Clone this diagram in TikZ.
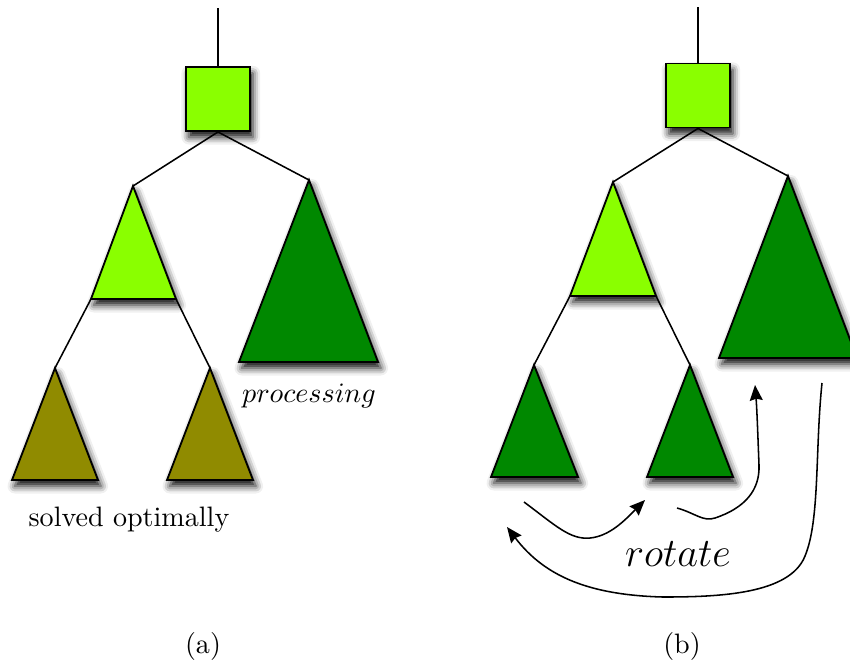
\documentclass[tikz,border=0pt]{standalone}
\usetikzlibrary{arrows.meta, shadows.blur}
\definecolor{topgreen}{RGB}{138,255,0}
\definecolor{deepgreen}{RGB}{0,136,0}
\definecolor{solvedolive}{RGB}{144,139,0}
\tikzset{
  edge/.style={line width=0.55pt},
  subtree/.style={draw, line width=0.65pt, blur shadow={shadow xshift=1pt, shadow yshift=-2.2pt, shadow blur radius=2.6pt, shadow opacity=95}},
  rootbox/.style={subtree, fill=topgreen, minimum size=22.8pt, inner sep=0pt},
  turn/.style={-{Stealth[length=5.5pt, width=4.6pt, inset=0.6pt, fill=black]}, line width=0.55pt}
}

\begin{document}
\begin{tikzpicture}[x=0.356pt, y=-0.356pt]
\useasboundingbox (0,0) rectangle (850,667);
\clip (0,0) rectangle (850,667);

% (a)
\coordinate (a-stem) at (218,8);
\node[rootbox] (a-root) at (218,99) {};
\coordinate (a-mid-top) at (133,186);
\coordinate (a-mid-bl) at (91,299);
\coordinate (a-mid-br) at (176,299);
\coordinate (a-big-top) at (309,180);
\coordinate (a-big-bl) at (239,362);
\coordinate (a-big-br) at (378,362);
\coordinate (a-ll-top) at (55,368);
\coordinate (a-ll-bl) at (12,480);
\coordinate (a-ll-br) at (98,480);
\coordinate (a-lr-top) at (210,368);
\coordinate (a-lr-bl) at (167,480);
\coordinate (a-lr-br) at (253,480);

\draw[subtree, fill=topgreen] (a-mid-top) -- (a-mid-bl) -- (a-mid-br) -- cycle;
\draw[subtree, fill=deepgreen] (a-big-top) -- (a-big-bl) -- (a-big-br) -- cycle;
\draw[subtree, fill=solvedolive] (a-ll-top) -- (a-ll-bl) -- (a-ll-br) -- cycle;
\draw[subtree, fill=solvedolive] (a-lr-top) -- (a-lr-bl) -- (a-lr-br) -- cycle;

\draw[edge] (a-stem) -- (a-root.north);
\draw[edge] (a-root.south) -- (a-mid-top);
\draw[edge] (a-root.south) -- (a-big-top);
\draw[edge] (a-mid-bl) -- (a-ll-top);
\draw[edge] (a-mid-br) -- (a-lr-top);

\node (solved) at (129,520) {solved optimally};
\node (proc) at (309,396) {$processing$};
\node (cap-a) at (203,646) {(a)};

% (b)
\coordinate (b-stem) at (698,7);
\node[rootbox] (b-root) at (698,95.5) {};
\coordinate (b-mid-top) at (613,182);
\coordinate (b-mid-bl) at (570,296);
\coordinate (b-mid-br) at (656,296);
\coordinate (b-big-top) at (788,176);
\coordinate (b-big-bl) at (719,358);
\coordinate (b-big-br) at (857,358);
\coordinate (b-ll-top) at (534,365);
\coordinate (b-ll-bl) at (491,477);
\coordinate (b-ll-br) at (578,477);
\coordinate (b-lr-top) at (690,365);
\coordinate (b-lr-bl) at (647,477);
\coordinate (b-lr-br) at (733,477);

\draw[subtree, fill=topgreen] (b-mid-top) -- (b-mid-bl) -- (b-mid-br) -- cycle;
\draw[subtree, fill=deepgreen] (b-big-top) -- (b-big-bl) -- (b-big-br) -- cycle;
\draw[subtree, fill=deepgreen] (b-ll-top) -- (b-ll-bl) -- (b-ll-br) -- cycle;
\draw[subtree, fill=deepgreen] (b-lr-top) -- (b-lr-bl) -- (b-lr-br) -- cycle;

\draw[edge] (b-stem) -- (b-root.north);
\draw[edge] (b-root.south) -- (b-mid-top);
\draw[edge] (b-root.south) -- (b-big-top);
\draw[edge] (b-mid-bl) -- (b-ll-top);
\draw[edge] (b-mid-br) -- (b-lr-top);

% rotation arrows
\coordinate (r1-from) at (524,502);
\coordinate (r1-to) at (645,500);
\coordinate (r2-from) at (677,508);
\coordinate (r2-to) at (755,385);
\coordinate (r3-from) at (822,383);
\coordinate (r3-to) at (507,527);
\draw[turn] (r1-from) .. controls (555,525) and (570,540) .. (590,538)
  .. controls (610,536) and (625,520) .. (r1-to);
\draw[turn] (r2-from) .. controls (695,513) and (703,522) .. (715,518)
  .. controls (745,508) and (760,490) .. (759,465)
  .. controls (758,440) and (757,410) .. (r2-to);
\draw[turn] (r3-from) .. controls (815,450) and (820,520) .. (805,556)
  .. controls (790,594) and (720,597) .. (663,597)
  .. controls (590,595) and (545,577) .. (r3-to);

\node (rot) at (678,554) {\fontsize{14}{17}\selectfont $rotate$};
\node (cap-b) at (682,646) {(b)};
\end{tikzpicture}
\end{document}
